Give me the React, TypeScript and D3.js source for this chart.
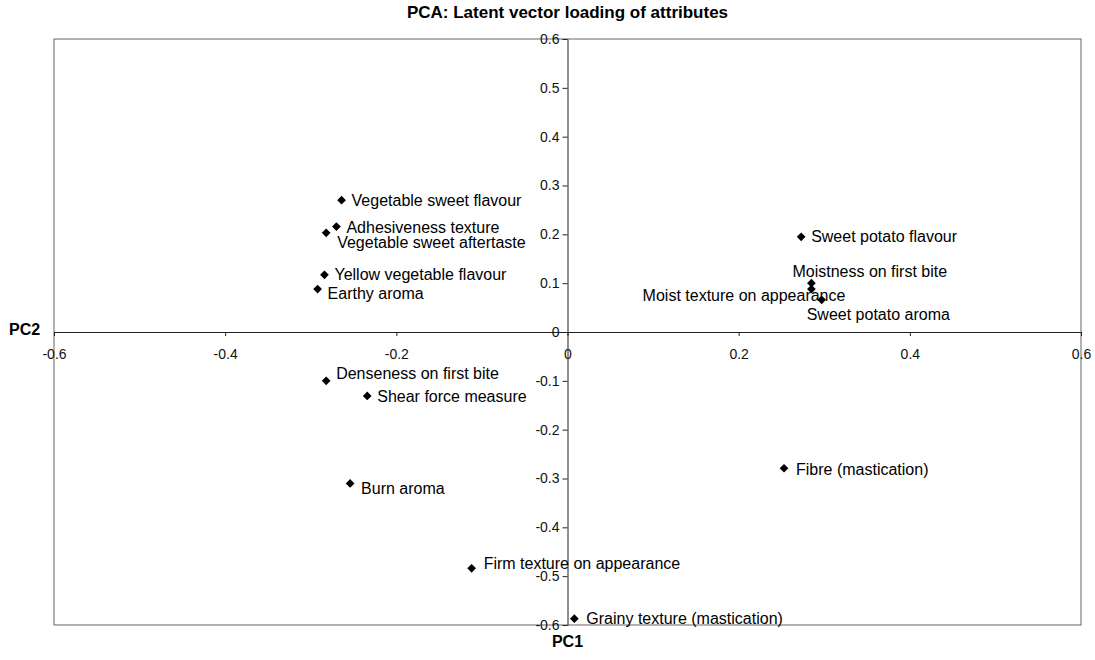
import React, { useEffect, useRef } from "react";
import * as d3 from "d3";

// attribute names and their loadings on PC1 / PC2
const attributes = [
  "Vegetable sweet flavour",
  "Adhesiveness texture",
  "Vegetable sweet aftertaste",
  "Yellow vegetable flavour",
  "Earthy aroma",
  "Sweet potato flavour",
  "Moistness on first bite",
  "Moist texture on appearance",
  "Sweet potato aroma",
  "Denseness on first bite",
  "Shear force measure",
  "Burn aroma",
  "Fibre (mastication)",
  "Firm texture on appearance",
  "Grainy texture (mastication)",
];
const pc1 = [-0.264, -0.270, -0.282, -0.284, -0.292, 0.273, 0.285, 0.285, 0.297, -0.282, -0.234, -0.254, 0.253, -0.112, 0.008];
const pc2 = [0.270, 0.216, 0.203, 0.117, 0.088, 0.195, 0.100, 0.088, 0.066, -0.100, -0.131, -0.310, -0.279, -0.484, -0.587];

// label placement relative to the marker (Excel puts some of them oddly)
const labelDx = [10, 10, 11, 10, 10, 10, -19, 34, -15, 10, 10, 11, 12, 12, 12];
const labelDy = [0, 1, 10, 0, 4, 0, -12, 6, 15, -7, 0, 5, 1, -5, 0];
const labelAnchor = ["start", "start", "start", "start", "start", "start", "start", "end", "start", "start", "start", "start", "start", "start", "start"];

const xTicks = [-0.6, -0.4, -0.2, 0, 0.2, 0.4, 0.6];
const yTicks = [-0.6, -0.5, -0.4, -0.3, -0.2, -0.1, 0, 0.1, 0.2, 0.3, 0.4, 0.5, 0.6];

const WIDTH = 1095;
const HEIGHT = 660;
const FONT = "Liberation Sans, Arial, sans-serif";

export default function App() {
  const ref = useRef<SVGSVGElement>(null);

  useEffect(() => {
    const svg = d3.select(ref.current);
    svg.selectAll("*").remove();

    const left = 54, right = 1081, top = 39, bottom = 625;

    const x = d3.scaleLinear().domain([-0.6, 0.6]).range([left, right]);
    const y = d3.scaleLinear().domain([-0.6, 0.6]).range([bottom, top]);
    const fmt = (d: number) => String(d); // plain hyphen minus like the original

    // plot frame
    svg.append("rect")
      .attr("x", left)
      .attr("y", top)
      .attr("width", right - left)
      .attr("height", bottom - top)
      .attr("fill", "none")
      .attr("stroke", "#666")
      .attr("stroke-width", 1);

    // horizontal axis through y = 0
    const xAxis = svg.append("g")
      .attr("transform", `translate(0,${y(0)})`)
      .call(d3.axisBottom(x).tickValues(xTicks).tickFormat(fmt as any).tickSize(4).tickPadding(13).tickSizeOuter(0));
    xAxis.selectAll("text").style("font-family", FONT).style("font-size", "14px").attr("fill", "#111");
    xAxis.selectAll("line").attr("stroke", "#222");
    xAxis.select(".domain").attr("stroke", "#222");

    // vertical axis through x = 0
    const yAxis = svg.append("g")
      .attr("transform", `translate(${x(0)},0)`)
      .call(d3.axisLeft(y).tickValues(yTicks).tickFormat(fmt as any).tickSize(5).tickPadding(3).tickSizeOuter(0));
    yAxis.selectAll("text").style("font-family", FONT).style("font-size", "14px").attr("fill", "#111");
    yAxis.selectAll("line").attr("stroke", "#222");
    yAxis.select(".domain").attr("stroke", "#222");

    // title and axis names
    svg.append("text")
      .attr("x", x(0))
      .attr("y", 18)
      .attr("text-anchor", "middle")
      .style("font-family", FONT)
      .style("font-size", "17px")
      .style("font-weight", "bold")
      .text("PCA: Latent vector loading of attributes");

    svg.append("text")
      .attr("x", 9)
      .attr("y", 335)
      .style("font-family", FONT)
      .style("font-size", "16px")
      .style("font-weight", "bold")
      .text("PC2");

    svg.append("text")
      .attr("x", x(0))
      .attr("y", 647)
      .attr("text-anchor", "middle")
      .style("font-family", FONT)
      .style("font-size", "16px")
      .style("font-weight", "bold")
      .text("PC1");

    const data = attributes.map((name, i) => ({ name, pc1: pc1[i], pc2: pc2[i], i }));

    // diamond markers
    const diamond = d3.symbol().type(d3.symbolSquare).size(38)();
    svg.append("g")
      .selectAll("path")
      .data(data)
      .enter()
      .append("path")
      .attr("d", diamond)
      .attr("transform", d => `translate(${x(d.pc1)},${y(d.pc2)}) rotate(45)`)
      .attr("fill", "#000");

    // labels
    svg.append("g")
      .selectAll("text")
      .data(data)
      .enter()
      .append("text")
      .attr("x", d => x(d.pc1) + labelDx[d.i])
      .attr("y", d => y(d.pc2) + labelDy[d.i])
      .attr("dy", "0.35em")
      .attr("text-anchor", d => labelAnchor[d.i])
      .style("font-family", FONT)
      .style("font-size", "16px")
      .attr("fill", "#000")
      .text(d => d.name);
  }, []);

  return (
    <svg
      ref={ref}
      width={WIDTH}
      height={HEIGHT}
      style={{ position: "absolute", left: 0, top: 0, background: "#fff" }}
    />
  );
}
